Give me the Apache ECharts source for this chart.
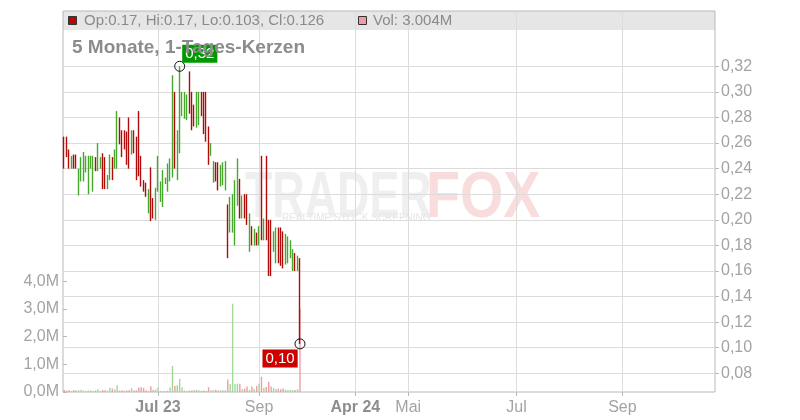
<!DOCTYPE html>
<html><head><meta charset="utf-8">
<script src="https://cdn.jsdelivr.net/npm/echarts@6/dist/echarts.min.js"></script>
<style>html,body{margin:0;padding:0;background:#fff}#c{width:800px;height:420px}</style>
</head><body><div id="c"></div>
<script>
// ---- data ----
const N_SLOTS = 271; // trading-day slots on the x axis (data + future)
const opens = [0.265,0.265,0.255,0.240,0.251,0.251,0.219,0.230,0.230,0.237,0.220,0.240,0.222,0.249,0.238,0.240,0.252,0.249,0.224,0.231,
0.249,0.240,0.240,0.280,0.270,0.270,0.269,0.280,0.251,0.270,0.265,0.285,0.250,0.231,0.229,0.205,0.241,0.217,0.200,0.222,
0.214,0.210,0.228,0.222,0.230,0.233,0.300,0.231,0.252,0.281,0.279,0.278,0.316,0.300,0.290,0.272,0.274,0.300,0.300,0.300,
0.273,0.250,0.229,0.245,0.245,0.226,0.227,0.223,0.212,0.190,0.190,0.180,0.211,0.232,0.201,0.220,0.220,0.175,0.195,0.180,
0.190,0.180,0.250,0.184,0.250,0.200,0.200,0.175,0.166,0.194,0.194,0.191,0.165,0.166,0.170,0.160,0.174,0.160,0.170];
const highs = [0.265,0.265,0.255,0.250,0.251,0.251,0.240,0.249,0.253,0.250,0.250,0.250,0.250,0.249,0.260,0.249,0.252,0.249,0.235,0.251,
0.249,0.255,0.285,0.280,0.270,0.270,0.269,0.280,0.270,0.270,0.265,0.285,0.250,0.231,0.229,0.224,0.241,0.217,0.225,0.250,
0.230,0.239,0.233,0.244,0.248,0.313,0.300,0.270,0.320,0.300,0.300,0.298,0.316,0.300,0.290,0.300,0.300,0.300,0.300,0.300,
0.273,0.260,0.246,0.245,0.245,0.243,0.245,0.246,0.212,0.218,0.220,0.231,0.248,0.232,0.219,0.220,0.220,0.205,0.195,0.193,
0.190,0.195,0.250,0.201,0.250,0.200,0.200,0.191,0.194,0.194,0.194,0.191,0.189,0.187,0.184,0.177,0.174,0.172,0.170];
const lows = [0.240,0.249,0.240,0.240,0.240,0.240,0.219,0.230,0.230,0.237,0.220,0.240,0.222,0.238,0.238,0.240,0.224,0.224,0.224,0.231,
0.231,0.240,0.240,0.259,0.249,0.255,0.243,0.240,0.251,0.252,0.231,0.234,0.226,0.222,0.218,0.205,0.199,0.201,0.200,0.222,
0.214,0.210,0.228,0.222,0.230,0.233,0.240,0.231,0.252,0.281,0.279,0.278,0.283,0.270,0.273,0.272,0.274,0.281,0.267,0.261,
0.243,0.250,0.229,0.230,0.223,0.226,0.227,0.223,0.170,0.190,0.190,0.180,0.211,0.201,0.201,0.201,0.196,0.175,0.180,0.180,
0.180,0.180,0.184,0.184,0.184,0.156,0.156,0.175,0.166,0.166,0.164,0.162,0.165,0.166,0.170,0.160,0.160,0.160,0.103];
const closes = [0.240,0.249,0.240,0.250,0.240,0.240,0.240,0.249,0.253,0.250,0.250,0.250,0.250,0.238,0.260,0.249,0.224,0.224,0.235,0.251,
0.231,0.255,0.285,0.259,0.249,0.255,0.243,0.240,0.270,0.252,0.231,0.234,0.226,0.222,0.218,0.224,0.199,0.201,0.225,0.250,
0.230,0.239,0.233,0.244,0.248,0.313,0.240,0.270,0.320,0.300,0.300,0.298,0.283,0.270,0.273,0.300,0.300,0.281,0.267,0.261,
0.243,0.260,0.246,0.230,0.223,0.243,0.245,0.246,0.170,0.218,0.220,0.231,0.248,0.201,0.219,0.201,0.196,0.205,0.180,0.193,
0.180,0.195,0.184,0.201,0.184,0.156,0.156,0.191,0.194,0.166,0.164,0.162,0.189,0.187,0.184,0.177,0.160,0.172,0.126];
const volumes = [0.07,0.05,0.06,0.04,0.07,0.05,0.06,0.08,0.05,0.04,0.05,0.06,0.04,0.05,0.10,0.04,0.07,0.06,0.05,0.15,
0.12,0.10,0.24,0.05,0.06,0.04,0.05,0.06,0.14,0.05,0.06,0.16,0.17,0.15,0.06,0.04,0.21,0.07,0.09,0.16,
0.04,0.03,0.04,0.05,0.16,0.94,0.22,0.24,0.48,0.17,0.05,0.04,0.05,0.05,0.06,0.08,0.06,0.04,0.05,0.04,
0.17,0.06,0.07,0.08,0.05,0.06,0.06,0.07,0.45,0.29,3.19,0.29,0.30,0.30,0.10,0.12,0.20,0.08,0.20,0.12,
0.22,0.30,0.55,0.15,0.18,0.37,0.20,0.15,0.11,0.12,0.10,0.13,0.08,0.07,0.08,0.07,0.06,0.10,3.004]; // millions
const tickSlots = [39, 81, 121, 143, 188, 232];
const tickTexts = ['Jul 23', 'Sep', 'Apr 24', 'Mai', 'Jul', 'Sep'];
const tickBold  = [true, false, true, false, false, false];
const titleText = '5 Monate, 1-Tages-Kerzen';

// ---- build ----
const UP = '#46a82a', DOWN = '#b00a0a', VUP = '#a2d898', VDOWN = '#ef9ca5';
const FONT = '"Liberation Sans", Arial, sans-serif';
const cats = Array.from({length: N_SLOTS}, (_, i) => String(i));
const labelIdx = {};
tickSlots.forEach((s, k) => { labelIdx[s] = k; });
const isTick = (i) => labelIdx[i] !== undefined;
const comma = (v, d) => v.toFixed(d).replace('.', ',');
const last = opens.length - 1;
let iMax = 0, iMin = 0;
highs.forEach((h, i) => { if (h > highs[iMax]) iMax = i; });
lows.forEach((l, i) => { if (l < lows[iMin]) iMin = i; });

const L = 63, R = 85;
const hiddenX = (g) => ({gridIndex: g, type: 'category', data: cats, show: false, boundaryGap: true});
const chart = echarts.init(document.getElementById('c'));
chart.setOption({
  animation: false,
  backgroundColor: '#fff',
  grid: [
    {left: L, right: R, top: 11, height: 19, show: true, backgroundColor: '#e6e6e6', borderWidth: 0},
    {left: L, right: R, top: 11, bottom: 28, show: true, borderColor: '#b8b8b8', borderWidth: 1},
    {left: L, right: R, top: 66.3, bottom: 46.7},
    {left: L, right: R, top: 281.3, bottom: 28}
  ],
  xAxis: [
    hiddenX(0),
    {gridIndex: 1, type: 'category', data: cats, boundaryGap: true,
     axisLine: {show: false},
     axisTick: {show: true, alignWithLabel: true, interval: isTick, length: 4, lineStyle: {color: '#b8b8b8'}},
     axisLabel: {interval: isTick, margin: 8, fontSize: 16, fontFamily: FONT, color: '#a3a3a3',
       formatter: (v) => { const k = labelIdx[+v]; if (k === undefined) return ''; return tickBold[k] ? '{b|' + tickTexts[k] + '}' : tickTexts[k]; },
       rich: {b: {fontSize: 16, fontFamily: FONT, fontWeight: 'bold', color: '#8e8e8e'}}},
     splitLine: {show: true, alignWithLabel: true, interval: isTick, lineStyle: {color: '#dcdcdc', width: 1}}},
    hiddenX(2),
    hiddenX(3)
  ],
  yAxis: [
    {gridIndex: 0, show: false},
    {gridIndex: 1, show: false},
    {gridIndex: 2, type: 'value', position: 'right', min: 0.08, max: 0.32, interval: 0.02,
     axisLine: {show: false},
     axisTick: {show: true, length: 4, lineStyle: {color: '#b8b8b8'}},
     axisLabel: {margin: 6, fontSize: 16, fontFamily: FONT, color: '#a3a3a3', formatter: (v) => comma(v, 2)},
     splitLine: {show: true, lineStyle: {color: '#dcdcdc', width: 1}}},
    {gridIndex: 3, type: 'value', position: 'left', min: 0, max: 4, interval: 1,
     axisLine: {show: false},
     axisTick: {show: true, inside: true, length: 4, lineStyle: {color: '#b8b8b8'}},
     axisLabel: {margin: 4, fontSize: 16, fontFamily: FONT, color: '#a3a3a3', formatter: (v) => comma(v, 1) + 'M'},
     splitLine: {show: false}}
  ],
  graphic: [
    {type: 'group', z: 1, silent: true, children: [
      {type: 'text', x: 245, y: 199, scaleX: 0.7, style: {text: 'TRADER', font: 'bold 64px ' + FONT, fill: '#efefef', verticalAlign: 'middle'}},
      {type: 'text', x: 426, y: 199, scaleX: 0.87, style: {text: 'FOX', font: 'bold 64px ' + FONT, fill: '#f9dcdc', verticalAlign: 'middle'}},
      {type: 'text', x: 282, y: 218, style: {text: 'REALTIME STOCK SCREENING', font: '10px ' + FONT, fill: '#e6e6e6', verticalAlign: 'middle'}}
    ]},
    {type: 'rect', z: 50, shape: {x: 68.5, y: 16.5, width: 8, height: 8}, style: {fill: DOWN, stroke: '#333', lineWidth: 1}},
    {type: 'text', z: 50, x: 84, y: 21, style: {text: 'Op:' + opens[last] + ', Hi:' + highs[last] + ', Lo:' + lows[last] + ', Cl:' + closes[last], font: '15px ' + FONT, fill: '#8a8a8a', verticalAlign: 'middle'}},
    {type: 'rect', z: 50, shape: {x: 358.5, y: 16.5, width: 8, height: 8}, style: {fill: VDOWN, stroke: '#333', lineWidth: 1}},
    {type: 'text', z: 50, x: 373, y: 21, style: {text: 'Vol: ' + volumes[last].toFixed(3) + 'M', font: '15px ' + FONT, fill: '#8a8a8a', verticalAlign: 'middle'}},
    {type: 'text', z: 100, x: 72, y: 48, style: {text: titleText, font: 'bold 19px ' + FONT, fill: '#8c8c8c', verticalAlign: 'middle'}}
  ],
  series: [
    {type: 'bar', xAxisIndex: 3, yAxisIndex: 3, barWidth: 1.4, z: 3,
     data: volumes.map((v, i) => ({value: v, itemStyle: {color: closes[i] >= opens[i] ? VUP : VDOWN}}))},
    {type: 'candlestick', xAxisIndex: 2, yAxisIndex: 2, barWidth: 1, clip: false, z: 4,
     itemStyle: {color: UP, color0: DOWN, borderColor: UP, borderColor0: DOWN, borderWidth: 1.4},
     data: opens.map((o, i) => [o, closes[i], lows[i], highs[i]])},
    {type: 'scatter', xAxisIndex: 2, yAxisIndex: 2, symbol: 'circle', symbolSize: 10, z: 5, clip: false,
     itemStyle: {color: 'rgba(255,255,255,0)', borderColor: '#111', borderWidth: 1, opacity: 1},
     data: [
       {value: [iMax, highs[iMax]], label: {show: true, position: [8, -16], formatter: comma(highs[iMax], 2),
         backgroundColor: '#009900', color: '#fff', fontSize: 15, fontFamily: FONT, padding: [1, 3], lineHeight: 16}},
       {value: [iMin, lows[iMin]], label: {show: true, position: [-32, 11], formatter: comma(lows[iMin], 2),
         backgroundColor: '#cc0000', color: '#fff', fontSize: 15, fontFamily: FONT, padding: [1, 3], lineHeight: 16}}
     ]}
  ]
});
</script></body></html>
